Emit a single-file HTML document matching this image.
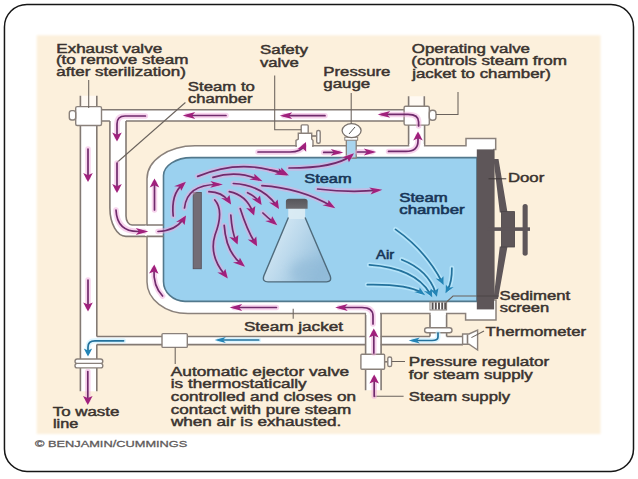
<!DOCTYPE html>
<html><head><meta charset="utf-8">
<style>
html,body{margin:0;padding:0;background:#fff;width:638px;height:479px;overflow:hidden}
svg{display:block}
text{font-family:"Liberation Sans",sans-serif}
.lb{fill:#3a332f;stroke:#3a332f;stroke-width:0.45px;font-size:12.5px}
.nv{fill:#183658;stroke:#183658;stroke-width:0.55px;font-size:12px}
.cp{fill:#5e5a5a;stroke:#5e5a5a;stroke-width:0.3px}
.pl{stroke:#837a74;stroke-width:1.6;fill:none}
.bx{fill:#fff;stroke:#8a817b;stroke-width:1.4}
.ld{stroke:#6a625c;stroke-width:1.05;fill:none}
.ar{stroke:#a8287e;stroke-width:2.4;fill:none;stroke-linecap:round}
.ah{fill:#a8287e}
.ab{stroke:#2f92c8;stroke-width:1.8;fill:none;stroke-linecap:round}
.bh{fill:#2f92c8}
</style></head>
<body>
<svg width="638" height="479" viewBox="0 0 638 479">
<defs>
<marker id="mh" viewBox="0 0 10 10" refX="6" refY="5" markerWidth="4" markerHeight="4" orient="auto" markerUnits="strokeWidth">
<path d="M0,0 L10,5 L0,10 L2.5,5 z" fill="#a8287e"/>
</marker>
<marker id="bh" viewBox="0 0 10 10" refX="6" refY="5" markerWidth="4.5" markerHeight="4.5" orient="auto" markerUnits="strokeWidth">
<path d="M0,0 L10,5 L0,10 L2.5,5 z" fill="#2f92c8"/>
</marker>
<linearGradient id="flask" x1="0" y1="0" x2="1" y2="0.6">
<stop offset="0" stop-color="#e6f3fa"/>
<stop offset="0.55" stop-color="#bcd9ec"/>
<stop offset="1" stop-color="#94bfdc"/>
</linearGradient>
<filter id="soft" x="-2%" y="-2%" width="104%" height="104%"><feGaussianBlur stdDeviation="0.9"/></filter>
<filter id="fblur" x="-50%" y="-50%" width="200%" height="200%"><feGaussianBlur stdDeviation="5"/></filter>
<linearGradient id="cap" x1="0" y1="0" x2="0" y2="1"><stop offset="0" stop-color="#56555a"/><stop offset="1" stop-color="#6c6b70"/></linearGradient>
</defs>
<!-- frame -->
<rect x="4.46" y="4.46" width="629.04" height="466.94" rx="22.5" ry="22.5" fill="#fff" stroke="#161616" stroke-width="1.5"/>
<!-- peach -->
<rect x="36.7" y="35.3" width="563.8" height="398.7" fill="#fcf0dc" filter="url(#soft)"/>

<g id="pipes">
<!-- white fills -->
<rect x="80.4" y="95.7" width="16.4" height="11" fill="#fff9f2"/>
<rect x="80.4" y="106" width="16.4" height="285.3" fill="#fff"/>
<rect x="96" y="109.8" width="310" height="11.2" fill="#fff"/>
<path d="M109.9,120 V208 A16,28.4 0 0 0 126,236.4 H160 V225 H132 A6,9 0 0 1 126,216 V120 Z" fill="#fff"/>
<rect x="96" y="336.5" width="368" height="8.1" fill="#fff"/>
<rect x="408.6" y="96.3" width="16" height="10.5" fill="#fff9f2"/>
<rect x="408.6" y="106" width="16" height="42" fill="#fff"/>
<rect x="365.4" y="310" width="15.8" height="80.2" fill="#fff"/>
<rect x="430" y="305" width="16.6" height="33" fill="#fff"/>
<!-- lines -->
<path class="pl" d="M80.4,95.7 V391.3 M96.8,95.7 V106.6 M96.8,125.5 V336.5 M96.8,344.6 V391.3"/>
<path class="pl" d="M101.5,109.8 H404.1 M101.5,121 H109.9 M126,121 H404.1"/>
<path class="pl" d="M109.9,121 V208 A16,28.4 0 0 0 126,236.4 H163 M126,121 V216 A6,9 0 0 0 132,225 H163"/>
<path class="pl" d="M96.8,336.5 H162 M187.3,336.5 H365.4 M380.7,336.5 H430 M446.6,336.5 H463"/>
<path class="pl" d="M96.8,344.6 H162 M187.3,344.6 H365.4 M380.7,344.6 H463"/>
<path class="pl" d="M408.6,96.3 V106.3 M424.3,96.3 V106.3 M408.6,125.1 V145.8 M424.6,125.1 V145.8"/>
<path class="pl" d="M365.6,313 V390.2 M381.1,313 V390.2"/>
<path class="pl" d="M430,309.7 V327.7 M446.6,309.7 V327.7 M430,332.8 V336.5 M446.6,332.8 V336.5"/>
</g>
<g id="jacket">
<path d="M147,178.8 A48,33 0 0 1 195,145.8 H466 V138.6 H495.7 V149.4 H494 V300 H496 V320 H465.6 V313.6 H188 A41,31.6 0 0 1 147,282 Z" fill="#fff" stroke="#8a817b" stroke-width="1.5"/>
<rect x="409.3" y="144" width="14.6" height="4" fill="#fff"/>
<rect x="366.1" y="311" width="13.9" height="4" fill="#fff"/>
<rect x="430.7" y="311" width="15.2" height="4" fill="#fff"/>
<rect x="145" y="225.7" width="4" height="10" fill="#fff"/>
<path d="M163.5,175.6 A28,18 0 0 1 191.5,157.6 H477 V301.4 H185 A22,20 0 0 1 163.5,281.4 Z" fill="#9bd1ef" stroke="#52788c" stroke-width="1.6"/>
</g>
<g id="comps">
<path class="pl" d="M147,225 H163.5 M147,236.4 H163.5"/>
<!-- exhaust valve -->
<rect class="bx" x="75.7" y="106.6" width="25.8" height="18.9" rx="1.5"/>
<rect class="bx" x="69.3" y="110.6" width="6.4" height="9.4" rx="2.5"/>
<path class="ld" d="M88.7,80 V108"/>
<!-- operating valve -->
<rect class="bx" x="404.1" y="106.3" width="25.2" height="18.8" rx="1.5"/>
<rect class="bx" x="429.3" y="110.2" width="6.7" height="10" rx="3"/>
<path class="ld" d="M436,114.4 H458 V92"/>
<!-- safety valve -->
<path d="M296,146 V140.4 L298.3,139 V133.3 H311.7 V139 L313,140.4 V146 Z" class="bx"/>
<rect class="bx" x="301.2" y="124.9" width="7" height="8.4" rx="1"/>
<path class="pl" d="M311.7,136 H317"/>
<rect class="bx" x="316.7" y="130.5" width="3.5" height="12.7" rx="1.5"/>
<rect x="297" y="143" width="15" height="5" fill="#fff"/>
<path class="ld" d="M274.7,75.6 V129.8 H301.2"/>
<!-- pressure gauge -->
<rect x="346.3" y="139.5" width="9.9" height="18.5" fill="#a8d4ee" stroke="#837a74" stroke-width="1.2"/>
<rect x="344.8" y="137.2" width="12.9" height="3" fill="#fff" stroke="#837a74" stroke-width="0.9"/>
<ellipse cx="351.6" cy="130.6" rx="9.5" ry="7" fill="#fff" stroke="#7a726c" stroke-width="1.3"/>
<path d="M349,134 L355,127" stroke="#555" stroke-width="1"/>
<path class="ld" d="M351.2,93 V123.6"/>
<!-- ejector valve -->
<rect class="bx" x="162" y="333.6" width="25.3" height="13.8" rx="1"/>
<path class="ld" d="M175.2,347.4 V363.9"/>
<!-- coupling left -->
<rect class="bx" x="75" y="359" width="27.8" height="4.6" rx="2.3"/>
<rect class="bx" x="75" y="363.4" width="27.8" height="4.5" rx="2.2"/>
<!-- pressure regulator -->
<path class="pl" d="M384.6,361.8 H388"/>
<rect class="bx" x="360.9" y="354.2" width="23.7" height="15" rx="1"/>
<rect class="bx" x="387.8" y="357" width="3.8" height="9.5" rx="1.6"/>
<path class="ld" d="M391.6,361.4 H405 M374.2,396.3 H403.6"/>
<!-- sediment screen -->
<rect x="430" y="302" width="16.6" height="8" fill="#fff" stroke="#8a827c" stroke-width="1"/>
<path d="M432.6,302.5 V309.5 M435.8,302.5 V309.5 M439,302.5 V309.5 M442.2,302.5 V309.5 M445.2,302.5 V309.5" stroke="#585252" stroke-width="1.9"/>
<rect class="bx" x="424.6" y="327.7" width="27.4" height="5.1" rx="2.5"/>
<path class="ld" d="M446.6,302 L453,296 H498.5"/>
<!-- thermometer -->
<path class="bx" d="M462.6,334 H469 L477.6,330 V350 L469,344.2 H462.6 Z"/>
<path class="pl" d="M467.5,334.5 V343.8"/>
<path class="ld" d="M471.4,337.6 L484,331"/>
<!-- steam jacket leader -->
<path class="ld" d="M293.2,308.8 V318.8"/>

</g>
<g id="door">
<rect x="476.8" y="149.4" width="17.3" height="160" fill="#5e5659"/>
<path d="M493.5,159 L498.5,159 L507.5,212.5 L499.8,212.5 Z M499.8,246.5 L507.5,246.5 L498,299 L493.5,299 Z" fill="#5e5659"/>
<rect x="501.4" y="211.6" width="13.2" height="35.4" fill="#5e5659" stroke="#4a4446" stroke-width="0.8"/>
<rect x="487.5" y="227.3" width="42.5" height="3.6" fill="#5e5659"/>
<rect x="522.6" y="203.9" width="5.1" height="51.9" rx="2.5" fill="#5e5659"/>
</g>
<path d="M488.5,178.8 H506.3" stroke="#3e3838" stroke-width="1"/>
<path d="M477,296 H498.5" stroke="#4a4444" stroke-width="0.9"/>
<g id="flask">
<clipPath id="fclip"><path d="M288.4,208 V217.5 L263.8,276 Q262,281.9 268,281.9 H326.5 Q332,281.9 330.2,276 L305.1,217.5 V208 Z"/></clipPath>
<path d="M288.4,208 V217.5 L263.8,276 Q262,281.9 268,281.9 H326.5 Q332,281.9 330.2,276 L305.1,217.5 V208 Z" fill="url(#flask)"/>
<g clip-path="url(#fclip)">
<ellipse cx="312" cy="272" rx="22" ry="13" fill="#8fb8d6" opacity="0.55" filter="url(#fblur)"/>
<rect x="286" y="207" width="22" height="12" fill="#dcecf4" opacity="0.8"/>
</g>
<path d="M288.4,217.5 L263.8,276 Q262,281.9 268,281.9 H326.5 Q332,281.9 330.2,276 L305.1,217.5" fill="none" stroke="#4f6b7c" stroke-width="1.4"/>
<path d="M285.9,208.8 V201.5 Q285.9,198.8 289,198.8 H304.5 Q307.6,198.8 307.6,201.5 V208.8 Z" fill="url(#cap)"/>
<rect x="193.2" y="192.5" width="8.1" height="76.2" fill="#736d76" stroke="#57525c" stroke-width="0.9"/>
<path class="ld" d="M185.4,102.5 L117,162.5"/>
</g>
<g id="arrows">
<path d="M145.4,116 H125 Q117,116 117,124 V137" stroke="#f0a8dc" stroke-opacity="0.5" stroke-width="5.5" fill="none" stroke-linecap="round"/>
<path d="M226,115.5 H187" stroke="#f0a8dc" stroke-opacity="0.5" stroke-width="5.5" fill="none" stroke-linecap="round"/>
<path d="M325,115.7 H284" stroke="#f0a8dc" stroke-opacity="0.5" stroke-width="5.5" fill="none" stroke-linecap="round"/>
<path d="M418.6,126 V122 Q418.6,114.4 408,114.4 H382" stroke="#f0a8dc" stroke-opacity="0.5" stroke-width="5.5" fill="none" stroke-linecap="round"/>
<path d="M388.5,151.4 H406 Q418,151.4 418,141 V136" stroke="#f0a8dc" stroke-opacity="0.5" stroke-width="5.5" fill="none" stroke-linecap="round"/>
<path d="M258,152 H290 Q301,152 304,146" stroke="#f0a8dc" stroke-opacity="0.5" stroke-width="5.5" fill="none" stroke-linecap="round"/>
<path d="M323.7,152.4 H339" stroke="#f0a8dc" stroke-opacity="0.5" stroke-width="5.5" fill="none" stroke-linecap="round"/>
<path d="M357.5,152 H372" stroke="#f0a8dc" stroke-opacity="0.5" stroke-width="5.5" fill="none" stroke-linecap="round"/>
<path d="M289,168 Q335,168 350.5,156" stroke="#f0a8dc" stroke-opacity="0.5" stroke-width="5.5" fill="none" stroke-linecap="round"/>
<path d="M197.7,176.4 Q241,158 283.5,174" stroke="#f0a8dc" stroke-opacity="0.5" stroke-width="5.5" fill="none" stroke-linecap="round"/>
<path d="M213,177.4 Q237,170 258.5,179.5" stroke="#f0a8dc" stroke-opacity="0.5" stroke-width="5.5" fill="none" stroke-linecap="round"/>
<path d="M173.2,216 Q171,194 182.5,184.5" stroke="#f0a8dc" stroke-opacity="0.5" stroke-width="5.5" fill="none" stroke-linecap="round"/>
<path d="M184.5,208 Q187,184 218.5,184.5" stroke="#f0a8dc" stroke-opacity="0.5" stroke-width="5.5" fill="none" stroke-linecap="round"/>
<path d="M158,231.5 Q175,231 183.5,219" stroke="#f0a8dc" stroke-opacity="0.5" stroke-width="5.5" fill="none" stroke-linecap="round"/>
<path d="M208.9,191.7 Q222,192 228.5,201" stroke="#f0a8dc" stroke-opacity="0.5" stroke-width="5.5" fill="none" stroke-linecap="round"/>
<path d="M229.3,191.7 Q246,195 252.5,211.5" stroke="#f0a8dc" stroke-opacity="0.5" stroke-width="5.5" fill="none" stroke-linecap="round"/>
<path d="M233.3,183.5 Q262,185 276.5,205.5" stroke="#f0a8dc" stroke-opacity="0.5" stroke-width="5.5" fill="none" stroke-linecap="round"/>
<path d="M247.6,192.7 Q255,196 259,201.5" stroke="#f0a8dc" stroke-opacity="0.5" stroke-width="5.5" fill="none" stroke-linecap="round"/>
<path d="M261.9,185.6 Q300,188 331.5,206" stroke="#f0a8dc" stroke-opacity="0.5" stroke-width="5.5" fill="none" stroke-linecap="round"/>
<path d="M262.9,213 Q268,218 273.8,222.5" stroke="#f0a8dc" stroke-opacity="0.5" stroke-width="5.5" fill="none" stroke-linecap="round"/>
<path d="M214.8,200 C222,208 220,222 215,235 C211,248 214,262 225,275" stroke="#f0a8dc" stroke-opacity="0.5" stroke-width="5.5" fill="none" stroke-linecap="round"/>
<path d="M224.2,225.4 Q226,252 241.5,264" stroke="#f0a8dc" stroke-opacity="0.5" stroke-width="5.5" fill="none" stroke-linecap="round"/>
<path d="M230.8,215 Q232,232 235.8,240.5" stroke="#f0a8dc" stroke-opacity="0.5" stroke-width="5.5" fill="none" stroke-linecap="round"/>
<path d="M240.2,208.5 Q247,230 254.8,242.5" stroke="#f0a8dc" stroke-opacity="0.5" stroke-width="5.5" fill="none" stroke-linecap="round"/>
<path d="M317.6,189 Q350,193 378,190.2" stroke="#f0a8dc" stroke-opacity="0.5" stroke-width="5.5" fill="none" stroke-linecap="round"/>
<path d="M270,170 Q280,171 285,173.5" stroke="#f0a8dc" stroke-opacity="0.5" stroke-width="5.5" fill="none" stroke-linecap="round"/>
<path d="M154.5,210 V183" stroke="#f0a8dc" stroke-opacity="0.5" stroke-width="5.5" fill="none" stroke-linecap="round"/>
<path d="M162.6,296 Q153,286 154,269" stroke="#f0a8dc" stroke-opacity="0.5" stroke-width="5.5" fill="none" stroke-linecap="round"/>
<path d="M276.4,307.5 H234" stroke="#f0a8dc" stroke-opacity="0.5" stroke-width="5.5" fill="none" stroke-linecap="round"/>
<path d="M373,324 V316 Q373,307.5 362,307.5 H339.5" stroke="#f0a8dc" stroke-opacity="0.5" stroke-width="5.5" fill="none" stroke-linecap="round"/>
<path d="M373.8,353 V333" stroke="#f0a8dc" stroke-opacity="0.5" stroke-width="5.5" fill="none" stroke-linecap="round"/>
<path d="M374.2,396.3 V379" stroke="#f0a8dc" stroke-opacity="0.5" stroke-width="5.5" fill="none" stroke-linecap="round"/>
<path d="M88,149 V177.5" stroke="#f0a8dc" stroke-opacity="0.5" stroke-width="5.5" fill="none" stroke-linecap="round"/>
<path d="M88,280 V307" stroke="#f0a8dc" stroke-opacity="0.5" stroke-width="5.5" fill="none" stroke-linecap="round"/>
<path d="M87.8,371.6 V400.5" stroke="#f0a8dc" stroke-opacity="0.5" stroke-width="5.5" fill="none" stroke-linecap="round"/>
<path d="M117,163 V188.5" stroke="#f0a8dc" stroke-opacity="0.5" stroke-width="5.5" fill="none" stroke-linecap="round"/>
<path d="M116,210 Q117,231.5 138,231.5 H144" stroke="#f0a8dc" stroke-opacity="0.5" stroke-width="5.5" fill="none" stroke-linecap="round"/>
<path d="M145.4,116 H125 Q117,116 117,124 V137" stroke="#702a6c" stroke-width="1.7" fill="none" stroke-linecap="round"/>
<path d="M117.0,141.4 L112.2,132.4 L117.0,134.7 L121.8,132.4Z" fill="#a0207c"/>
<path d="M226,115.5 H187" stroke="#702a6c" stroke-width="1.7" fill="none" stroke-linecap="round"/>
<path d="M182.6,115.5 L195.2,112.1 L192.1,115.5 L195.2,118.9Z" fill="#a0207c"/>
<path d="M325,115.7 H284" stroke="#702a6c" stroke-width="1.7" fill="none" stroke-linecap="round"/>
<path d="M279.6,115.7 L292.2,112.3 L289.1,115.7 L292.2,119.1Z" fill="#a0207c"/>
<path d="M418.6,126 V122 Q418.6,114.4 408,114.4 H382" stroke="#702a6c" stroke-width="1.7" fill="none" stroke-linecap="round"/>
<path d="M377.6,114.4 L390.2,111.0 L387.1,114.4 L390.2,117.8Z" fill="#a0207c"/>
<path d="M388.5,151.4 H406 Q418,151.4 418,141 V136" stroke="#702a6c" stroke-width="1.7" fill="none" stroke-linecap="round"/>
<path d="M418.0,131.6 L422.8,140.6 L418.0,138.3 L413.2,140.6Z" fill="#a0207c"/>
<path d="M258,152 H290 Q301,152 304,146" stroke="#702a6c" stroke-width="1.7" fill="none" stroke-linecap="round"/>
<path d="M306.0,142.1 L306.2,151.7 L302.8,148.4 L297.2,149.4Z" fill="#a0207c"/>
<path d="M323.7,152.4 H339" stroke="#702a6c" stroke-width="1.7" fill="none" stroke-linecap="round"/>
<path d="M343.4,152.4 L330.8,155.8 L333.9,152.4 L330.8,149.0Z" fill="#a0207c"/>
<path d="M357.5,152 H372" stroke="#702a6c" stroke-width="1.7" fill="none" stroke-linecap="round"/>
<path d="M376.4,152.0 L363.8,155.4 L366.9,152.0 L363.8,148.6Z" fill="#a0207c"/>
<path d="M289,168 Q335,168 350.5,156" stroke="#702a6c" stroke-width="1.7" fill="none" stroke-linecap="round"/>
<path d="M354.0,153.3 L348.9,162.2 L347.6,158.3 L341.9,157.6Z" fill="#a0207c"/>
<path d="M197.7,176.4 Q241,158 283.5,174" stroke="#702a6c" stroke-width="1.7" fill="none" stroke-linecap="round"/>
<path d="M287.6,175.6 L274.3,174.4 L279.3,172.4 L278.7,168.3Z" fill="#a0207c"/>
<path d="M213,177.4 Q237,170 258.5,179.5" stroke="#702a6c" stroke-width="1.7" fill="none" stroke-linecap="round"/>
<path d="M262.5,181.3 L249.3,179.4 L254.5,177.7 L254.3,173.7Z" fill="#a0207c"/>
<path d="M173.2,216 Q171,194 182.5,184.5" stroke="#702a6c" stroke-width="1.7" fill="none" stroke-linecap="round"/>
<path d="M185.9,181.7 L181.3,190.7 L179.7,186.8 L174.1,186.3Z" fill="#a0207c"/>
<path d="M184.5,208 Q187,184 218.5,184.5" stroke="#702a6c" stroke-width="1.7" fill="none" stroke-linecap="round"/>
<path d="M222.9,184.6 L210.2,187.8 L213.5,184.4 L210.4,181.0Z" fill="#a0207c"/>
<path d="M158,231.5 Q175,231 183.5,219" stroke="#702a6c" stroke-width="1.7" fill="none" stroke-linecap="round"/>
<path d="M186.0,215.4 L184.6,225.0 L181.8,221.4 L176.1,221.9Z" fill="#a0207c"/>
<path d="M208.9,191.7 Q222,192 228.5,201" stroke="#702a6c" stroke-width="1.7" fill="none" stroke-linecap="round"/>
<path d="M231.1,204.6 L221.1,198.1 L226.7,198.6 L229.5,195.0Z" fill="#a0207c"/>
<path d="M229.3,191.7 Q246,195 252.5,211.5" stroke="#702a6c" stroke-width="1.7" fill="none" stroke-linecap="round"/>
<path d="M254.1,215.6 L246.1,207.9 L251.6,209.1 L255.3,206.0Z" fill="#a0207c"/>
<path d="M233.3,183.5 Q262,185 276.5,205.5" stroke="#702a6c" stroke-width="1.7" fill="none" stroke-linecap="round"/>
<path d="M279.0,209.1 L269.1,202.6 L274.8,203.1 L277.6,199.5Z" fill="#a0207c"/>
<path d="M247.6,192.7 Q255,196 259,201.5" stroke="#702a6c" stroke-width="1.7" fill="none" stroke-linecap="round"/>
<path d="M261.6,205.1 L251.6,198.6 L257.2,199.1 L260.0,195.5Z" fill="#a0207c"/>
<path d="M261.9,185.6 Q300,188 331.5,206" stroke="#702a6c" stroke-width="1.7" fill="none" stroke-linecap="round"/>
<path d="M335.3,208.2 L322.5,205.2 L327.9,204.0 L328.5,199.9Z" fill="#a0207c"/>
<path d="M262.9,213 Q268,218 273.8,222.5" stroke="#702a6c" stroke-width="1.7" fill="none" stroke-linecap="round"/>
<path d="M277.3,225.2 L265.2,220.9 L270.9,220.2 L272.2,216.3Z" fill="#a0207c"/>
<path d="M214.8,200 C222,208 220,222 215,235 C211,248 214,262 225,275" stroke="#702a6c" stroke-width="1.7" fill="none" stroke-linecap="round"/>
<path d="M227.8,278.4 L217.3,272.4 L223.0,272.6 L225.4,268.9Z" fill="#a0207c"/>
<path d="M224.2,225.4 Q226,252 241.5,264" stroke="#702a6c" stroke-width="1.7" fill="none" stroke-linecap="round"/>
<path d="M245.0,266.7 L232.9,262.4 L238.6,261.7 L239.9,257.8Z" fill="#a0207c"/>
<path d="M230.8,215 Q232,232 235.8,240.5" stroke="#702a6c" stroke-width="1.7" fill="none" stroke-linecap="round"/>
<path d="M237.6,244.5 L229.2,237.0 L234.7,238.1 L238.3,234.9Z" fill="#a0207c"/>
<path d="M240.2,208.5 Q247,230 254.8,242.5" stroke="#702a6c" stroke-width="1.7" fill="none" stroke-linecap="round"/>
<path d="M257.1,246.2 L247.7,239.4 L253.3,240.1 L256.3,236.6Z" fill="#a0207c"/>
<path d="M317.6,189 Q350,193 378,190.2" stroke="#702a6c" stroke-width="1.7" fill="none" stroke-linecap="round"/>
<path d="M382.4,189.8 L370.6,194.4 L373.0,190.7 L369.2,187.6Z" fill="#a0207c"/>
<path d="M270,170 Q280,171 285,173.5" stroke="#702a6c" stroke-width="1.7" fill="none" stroke-linecap="round"/>
<path d="M288.9,175.5 L275.9,173.1 L281.2,171.6 L281.3,167.5Z" fill="#a0207c"/>
<path d="M154.5,210 V183" stroke="#702a6c" stroke-width="1.7" fill="none" stroke-linecap="round"/>
<path d="M154.5,178.6 L159.3,187.6 L154.5,185.3 L149.7,187.6Z" fill="#a0207c"/>
<path d="M162.6,296 Q153,286 154,269" stroke="#702a6c" stroke-width="1.7" fill="none" stroke-linecap="round"/>
<path d="M154.3,264.6 L158.5,273.7 L153.9,271.4 L149.0,273.5Z" fill="#a0207c"/>
<path d="M276.4,307.5 H234" stroke="#702a6c" stroke-width="1.7" fill="none" stroke-linecap="round"/>
<path d="M229.6,307.5 L242.2,304.1 L239.1,307.5 L242.2,310.9Z" fill="#a0207c"/>
<path d="M373,324 V316 Q373,307.5 362,307.5 H339.5" stroke="#702a6c" stroke-width="1.7" fill="none" stroke-linecap="round"/>
<path d="M335.1,307.5 L347.7,304.1 L344.6,307.5 L347.7,310.9Z" fill="#a0207c"/>
<path d="M373.8,353 V333" stroke="#702a6c" stroke-width="1.7" fill="none" stroke-linecap="round"/>
<path d="M373.8,328.6 L378.6,337.6 L373.8,335.4 L369.0,337.6Z" fill="#a0207c"/>
<path d="M374.2,396.3 V379" stroke="#702a6c" stroke-width="1.7" fill="none" stroke-linecap="round"/>
<path d="M374.2,374.6 L379.0,383.6 L374.2,381.4 L369.4,383.6Z" fill="#a0207c"/>
<path d="M88,149 V177.5" stroke="#702a6c" stroke-width="1.7" fill="none" stroke-linecap="round"/>
<path d="M88.0,181.9 L83.2,172.9 L88.0,175.2 L92.8,172.9Z" fill="#a0207c"/>
<path d="M88,280 V307" stroke="#702a6c" stroke-width="1.7" fill="none" stroke-linecap="round"/>
<path d="M88.0,311.4 L83.2,302.4 L88.0,304.6 L92.8,302.4Z" fill="#a0207c"/>
<path d="M87.8,371.6 V400.5" stroke="#702a6c" stroke-width="1.7" fill="none" stroke-linecap="round"/>
<path d="M87.8,404.9 L83.0,395.9 L87.8,398.1 L92.6,395.9Z" fill="#a0207c"/>
<path d="M117,163 V188.5" stroke="#702a6c" stroke-width="1.7" fill="none" stroke-linecap="round"/>
<path d="M117.0,192.9 L112.2,183.9 L117.0,186.2 L121.8,183.9Z" fill="#a0207c"/>
<path d="M116,210 Q117,231.5 138,231.5 H144" stroke="#702a6c" stroke-width="1.7" fill="none" stroke-linecap="round"/>
<path d="M148.4,231.5 L135.8,234.9 L138.9,231.5 L135.8,228.1Z" fill="#a0207c"/>
<path d="M123.6,340.8 H95 Q88,340.8 88,347 V352" stroke="#c4eeff" stroke-opacity="0.6" stroke-width="5" fill="none" stroke-linecap="round"/>
<path d="M258.7,340 H219" stroke="#c4eeff" stroke-opacity="0.6" stroke-width="5" fill="none" stroke-linecap="round"/>
<path d="M438,333 V337 Q438,340.5 432,340.5 H413" stroke="#c4eeff" stroke-opacity="0.6" stroke-width="5" fill="none" stroke-linecap="round"/>
<path d="M395.5,229.4 Q425,250 441.5,281" stroke="#c4eeff" stroke-opacity="0.6" stroke-width="5" fill="none" stroke-linecap="round"/>
<path d="M401.8,259.7 Q428,270 435.5,292.5" stroke="#c4eeff" stroke-opacity="0.6" stroke-width="5" fill="none" stroke-linecap="round"/>
<path d="M369.4,264.9 Q415,268 430,293.5" stroke="#c4eeff" stroke-opacity="0.6" stroke-width="5" fill="none" stroke-linecap="round"/>
<path d="M367.3,284.7 Q408,284 421.5,292.8" stroke="#c4eeff" stroke-opacity="0.6" stroke-width="5" fill="none" stroke-linecap="round"/>
<path d="M451.9,268 Q452,282 447.7,289.5" stroke="#c4eeff" stroke-opacity="0.6" stroke-width="5" fill="none" stroke-linecap="round"/>
<path d="M123.6,340.8 H95 Q88,340.8 88,347 V352" stroke="#22719c" stroke-width="1.7" fill="none" stroke-linecap="round"/>
<path d="M88.0,356.4 L83.8,348.4 L88.0,350.4 L92.2,348.4Z" fill="#2384b6"/>
<path d="M258.7,340 H219" stroke="#22719c" stroke-width="1.7" fill="none" stroke-linecap="round"/>
<path d="M214.6,340.0 L225.8,337.0 L223.0,340.0 L225.8,343.0Z" fill="#2384b6"/>
<path d="M438,333 V337 Q438,340.5 432,340.5 H413" stroke="#22719c" stroke-width="1.7" fill="none" stroke-linecap="round"/>
<path d="M408.6,340.5 L419.8,337.5 L417.0,340.5 L419.8,343.5Z" fill="#2384b6"/>
<path d="M395.5,229.4 Q425,250 441.5,281" stroke="#22719c" stroke-width="1.7" fill="none" stroke-linecap="round"/>
<path d="M443.6,284.9 L435.7,278.5 L440.6,279.3 L443.5,276.3Z" fill="#2384b6"/>
<path d="M401.8,259.7 Q428,270 435.5,292.5" stroke="#22719c" stroke-width="1.7" fill="none" stroke-linecap="round"/>
<path d="M436.9,296.7 L430.2,289.6 L434.9,290.8 L438.4,288.2Z" fill="#2384b6"/>
<path d="M369.4,264.9 Q415,268 430,293.5" stroke="#22719c" stroke-width="1.7" fill="none" stroke-linecap="round"/>
<path d="M432.2,297.3 L424.0,291.1 L429.0,291.8 L431.8,288.8Z" fill="#2384b6"/>
<path d="M367.3,284.7 Q408,284 421.5,292.8" stroke="#22719c" stroke-width="1.7" fill="none" stroke-linecap="round"/>
<path d="M425.2,295.2 L414.1,292.0 L419.0,291.2 L419.7,287.6Z" fill="#2384b6"/>
<path d="M451.9,268 Q452,282 447.7,289.5" stroke="#22719c" stroke-width="1.7" fill="none" stroke-linecap="round"/>
<path d="M445.5,293.3 L445.9,284.8 L448.7,287.8 L453.6,287.1Z" fill="#2384b6"/>
</g>
<g id="labels">
<text class="lb" font-size="12.2" transform="translate(56.35,52.6) scale(1.360,1)">Exhaust valve</text>
<text class="lb" font-size="12.2" transform="translate(55.90,64.2) scale(1.365,1)">(to remove steam</text>
<text class="lb" font-size="12.2" transform="translate(56.30,76.0) scale(1.362,1)">after sterilization)</text>
<text class="lb" font-size="12.2" transform="translate(259.90,54.3) scale(1.358,1)">Safety</text>
<text class="lb" font-size="12.2" transform="translate(259.90,66.5) scale(1.338,1)">valve</text>
<text class="lb" font-size="12.2" transform="translate(323.30,76.3) scale(1.342,1)">Pressure</text>
<text class="lb" font-size="12.2" transform="translate(323.30,88.0) scale(1.350,1)">gauge</text>
<text class="lb" font-size="12.2" transform="translate(411.80,52.7) scale(1.351,1)">Operating valve</text>
<text class="lb" font-size="12.2" transform="translate(411.30,65.3) scale(1.368,1)">(controls steam from</text>
<text class="lb" font-size="12.2" transform="translate(412.21,77.8) scale(1.350,1)">jacket to chamber)</text>
<text class="lb" font-size="12.2" transform="translate(187.80,90.5) scale(1.342,1)">Steam to</text>
<text class="lb" font-size="12.2" transform="translate(188.00,103.1) scale(1.330,1)">chamber</text>
<text class="lb" font-size="12.6" transform="translate(507.90,182.2) scale(1.343,1)">Door</text>
<text class="lb" font-size="12.2" transform="translate(499.50,299.8) scale(1.341,1)">Sediment</text>
<text class="lb" font-size="12.2" transform="translate(499.70,312.4) scale(1.321,1)">screen</text>
<text class="lb" font-size="12.2" transform="translate(485.60,336) scale(1.341,1)">Thermometer</text>
<text class="lb" font-size="12.2" transform="translate(243.90,330.6) scale(1.373,1)">Steam jacket</text>
<text class="lb" font-size="12.2" transform="translate(408.80,366.3) scale(1.366,1)">Pressure regulator</text>
<text class="lb" font-size="12.2" transform="translate(408.80,378.8) scale(1.353,1)">for steam supply</text>
<text class="lb" font-size="12.2" transform="translate(408.80,400.6) scale(1.336,1)">Steam supply</text>
<text class="lb" font-size="12.2" transform="translate(170.80,375.6) scale(1.382,1)">Automatic ejector valve</text>
<text class="lb" font-size="12.2" transform="translate(170.80,388.4) scale(1.367,1)">is thermostatically</text>
<text class="lb" font-size="12.2" transform="translate(170.80,401.0) scale(1.375,1)">controlled and closes on</text>
<text class="lb" font-size="12.2" transform="translate(170.80,413.6) scale(1.368,1)">contact with pure steam</text>
<text class="lb" font-size="12.2" transform="translate(170.88,426.4) scale(1.371,1)">when air is exhausted.</text>
<text class="lb" font-size="12.2" transform="translate(52.70,416.3) scale(1.353,1)">To waste</text>
<text class="lb" font-size="12.2" transform="translate(53.00,428.3) scale(1.303,1)">line</text>
<text class="cp" font-size="9.6" transform="translate(34.90,446.8) scale(1.336,1)">© BENJAMIN/CUMMINGS</text>
<text class="nv" font-size="11.8" transform="translate(304.20,183.3) scale(1.369,1)">Steam</text>
<text class="nv" font-size="11.8" transform="translate(399.30,201.7) scale(1.395,1)">Steam</text>
<text class="nv" font-size="11.8" transform="translate(399.30,214.4) scale(1.399,1)">chamber</text>
<text class="nv" font-size="11.8" transform="translate(376.10,258.7) scale(1.224,1)">Air</text>
</g>
</svg>
</body></html>
